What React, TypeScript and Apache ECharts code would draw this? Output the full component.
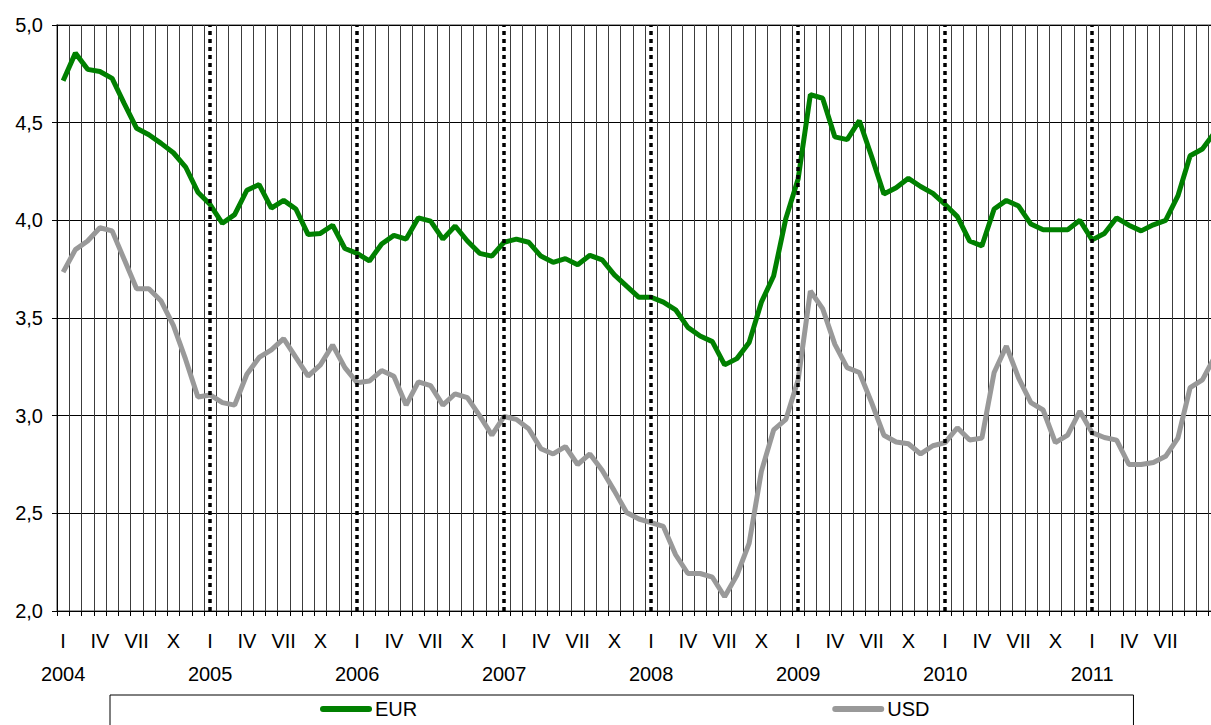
import React, { useEffect, useRef } from "react";
import * as echarts from "echarts";

const years = [2004, 2005, 2006, 2007, 2008, 2009, 2010, 2011];
const quarterLabels = ["I", "IV", "VII", "X"];
const lastLabelIndex = 90; // Jul 2011 is the last month label shown

const eur = [
  4.715, 4.856, 4.773, 4.762, 4.727, 4.596, 4.471, 4.438, 4.394, 4.346, 4.273, 4.144,
  4.081, 3.985, 4.029, 4.154, 4.183, 4.062, 4.102, 4.058, 3.927, 3.933, 3.975, 3.856,
  3.831, 3.792, 3.879, 3.923, 3.904, 4.013, 3.996, 3.904, 3.971, 3.894, 3.831, 3.817,
  3.888, 3.904, 3.888, 3.817, 3.785, 3.804, 3.773, 3.821, 3.798, 3.721, 3.663, 3.606,
  3.606, 3.581, 3.542, 3.452, 3.408, 3.379, 3.26, 3.292, 3.375, 3.581, 3.715, 4.01,
  4.212, 4.644, 4.625, 4.427, 4.413, 4.51, 4.327, 4.135, 4.167, 4.215, 4.173, 4.138,
  4.081, 4.019, 3.894, 3.869, 4.058, 4.102, 4.073, 3.981, 3.952, 3.952, 3.952, 4.0,
  3.9, 3.933, 4.013, 3.975, 3.946, 3.977, 4.0, 4.125, 4.331, 4.365, 4.45,
];

const usd = [
  3.735, 3.85, 3.894, 3.962, 3.946, 3.798, 3.65, 3.65, 3.587, 3.462, 3.288, 3.096,
  3.106, 3.067, 3.054, 3.212, 3.298, 3.337, 3.394, 3.298, 3.202, 3.26, 3.362, 3.246,
  3.169, 3.177, 3.231, 3.202, 3.054, 3.173, 3.154, 3.054, 3.112, 3.092, 3.0, 2.9,
  2.996, 2.981, 2.933, 2.831, 2.804, 2.842, 2.75, 2.804, 2.721, 2.615, 2.504, 2.471,
  2.452, 2.433, 2.288, 2.192, 2.192, 2.173, 2.073, 2.183, 2.346, 2.715, 2.927, 2.981,
  3.183, 3.638, 3.548, 3.365, 3.246, 3.221, 3.067, 2.9, 2.865, 2.856, 2.804, 2.846,
  2.862, 2.938, 2.875, 2.885, 3.221, 3.356, 3.192, 3.067, 3.029, 2.862, 2.9, 3.023,
  2.913, 2.888, 2.875, 2.75, 2.75, 2.76, 2.792, 2.885, 3.144, 3.183, 3.3,
];

const yearMarks = [2005, 2006, 2007, 2008, 2009, 2010, 2011];

const categories: string[] = [];
years.forEach((y) => {
  for (let m = 1; m <= 12; m++) categories.push(`${y}-${m < 10 ? "0" + m : m}`);
});

const FONT = "'Liberation Sans', Arial, sans-serif";

export default function App() {
  const ref = useRef<HTMLDivElement>(null);
  useEffect(() => {
    if (!ref.current) return;
    const chart = echarts.init(ref.current, undefined, { renderer: "svg" });
    const capsule = "path://M3,0 H49 A3,3 0 0 1 49,6 H3 A3,3 0 0 1 3,0 Z";
    chart.setOption({
      animation: false,
      backgroundColor: "#fff",
      textStyle: { fontFamily: FONT, color: "#000" },
      legend: {
        data: [
          { name: "EUR", icon: capsule },
          { name: "USD", icon: capsule },
        ],
        left: 110,
        top: 695,
        padding: [4, 204, 24, 210],
        itemGap: 415,
        itemWidth: 52,
        itemHeight: 6,
        borderColor: "#000",
        borderWidth: 1,
        textStyle: { fontFamily: FONT, fontSize: 20, color: "#000", padding: [0, 0, 0, -2] },
      },
      grid: {
        left: 57,
        top: 25,
        width: 1176,
        height: 586,
        show: true,
        borderColor: "#808080",
        borderWidth: 1.5,
        containLabel: false,
      },
      xAxis: [
        {
          type: "category",
          data: categories,
          boundaryGap: true,
          axisLine: { show: true, lineStyle: { color: "#000", width: 1 } },
          axisTick: { show: true, interval: 0, length: 5, lineStyle: { color: "#000" } },
          splitLine: { show: true, interval: 0, lineStyle: { color: "#3c3c3c", width: 1 } },
          axisLabel: {
            interval: (i: number) => i % 3 === 0 && i <= lastLabelIndex,
            formatter: (_v: string, i: number) => quarterLabels[(i % 12) / 3],
            margin: 20,
            fontSize: 20,
            fontFamily: FONT,
            color: "#000",
          },
        },
        {
          type: "category",
          data: categories,
          boundaryGap: true,
          position: "bottom",
          offset: 0,
          axisLine: { show: false },
          axisTick: { show: false },
          splitLine: { show: false },
          axisLabel: {
            interval: (i: number) => i % 12 === 0,
            formatter: (_v: string, i: number) => String(years[Math.floor(i / 12)]),
            margin: 53,
            fontSize: 20,
            fontFamily: FONT,
            color: "#000",
          },
        },
      ],
      yAxis: {
        type: "value",
        min: 2,
        max: 5,
        interval: 0.5,
        axisLine: { show: true, lineStyle: { color: "#000", width: 1 } },
        axisTick: { show: true, length: 5, lineStyle: { color: "#000" } },
        splitLine: { show: true, lineStyle: { color: "#000", width: 1 } },
        axisLabel: {
          formatter: (v: number) => v.toFixed(1).replace(".", ","),
          margin: 14,
          fontSize: 20,
          fontFamily: FONT,
          color: "#000",
        },
      },
      series: [
        {
          name: "EUR",
          type: "line",
          data: eur,
          xAxisIndex: 0,
          symbol: "none",
          color: "#008000",
          lineStyle: { color: "#008000", width: 5 },
          z: 3,
        },
        {
          name: "USD",
          type: "line",
          data: usd,
          xAxisIndex: 0,
          symbol: "none",
          color: "#999999",
          lineStyle: { color: "#999999", width: 5 },
          z: 3,
          markLine: {
            silent: true,
            symbol: ["none", "none"],
            label: { show: false },
            lineStyle: { color: "#000", width: 3.5, type: [4, 4] },
            data: yearMarks.map((y) => ({ xAxis: `${y}-01` })),
          },
        },
      ],
    });
    return () => chart.dispose();
  }, []);
  return (
    <div
      style={{ position: "fixed", left: 0, top: 0, width: 1211, height: 725, overflow: "hidden" }}
    >
      <div ref={ref} style={{ width: 1235, height: 725 }} />
    </div>
  );
}
